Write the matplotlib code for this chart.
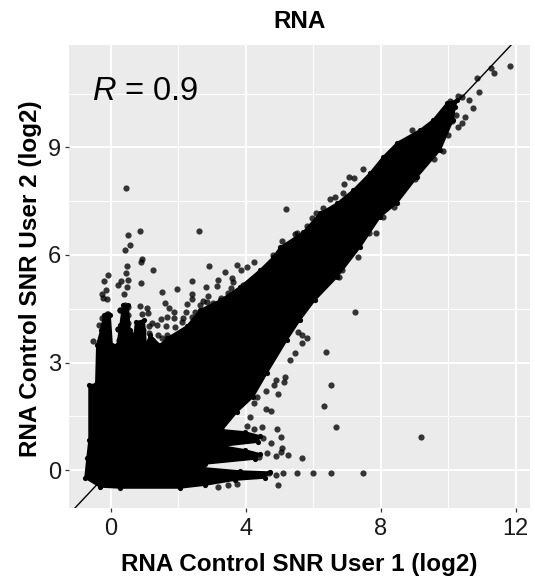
import matplotlib
matplotlib.use("Agg")
import matplotlib.pyplot as plt
from matplotlib.patches import Polygon

plt.rcParams['font.family'] = ['Liberation Sans', 'DejaVu Sans']
plt.rcParams['mathtext.fontset'] = 'custom'
plt.rcParams['mathtext.it'] = 'Liberation Sans:italic'
plt.rcParams['mathtext.rm'] = 'Liberation Sans'

title = "RNA"
x_label = "RNA Control SNR User 1 (log2)"
y_label = "RNA Control SNR User 2 (log2)"
x_ticks = [0, 4, 8, 12]
y_ticks = [0, 3, 6, 9]
x_minor = [2, 6, 10]
y_minor = [1.5, 4.5, 7.5, 10.5]

# Individually visible points
points_x = [0.45,0.88,0.51,0.56,0.41,2.61,5.19,0.94,0.90,1.24,0.48,0.46,-0.07,-0.19,0.50,0.31,0.22,0.48,0.89,-0.13,-0.27,0.39,-0.24,-0.12,
            2.90,2.41,1.96,1.52,2.42,2.41,2.25,1.61,1.73,1.88,2.22,2.81,3.14,3.17,3.40,3.73,3.86,4.05,4.25,3.59,3.62,3.57,3.93,2.89,2.74,3.26,3.47,
            0.88,1.08,0.42,0.28,0.52,0.94,1.11,-0.12,-0.27,-0.36,-0.52,1.66,1.88,1.48,1.23,1.38,1.64,1.14,0.79,0.23,4.82,5.07,5.51,
            11.84,11.34,11.26,10.84,10.91,10.60,10.40,10.30,10.05,10.74,10.50,10.40,10.30,10.23,10.10,9.99,9.83,9.58,8.92,8.57,7.48,7.06,7.22,6.91,6.89,6.50,6.65,6.07,5.96,6.30,5.81,5.46,
            8.40,8.08,7.87,7.66,7.33,6.84,6.76,9.02,
            7.24,6.37,6.53,6.32,6.68,9.20,7.48,6.52,6.00,5.51,5.68,5.26,5.08,5.03,4.94,4.47,4.25,4.74,4.52,4.62,4.40,4.91,5.05,4.95,3.75,3.48,3.17,5.11,4.90,4.69,
            5.54,5.66,5.81,5.66,5.46,5.30,5.16,5.13,4.90,4.84,4.59,4.95,4.34,4.23,4.59,4.75,4.13,4.03,
            -0.15,-0.09,-0.22,-0.12,-0.27,-0.12,-0.22,0.28,0.42,0.52,0.37,0.52,0.23,0.37,0.52,0.25,0.42,0.57,0.87,0.95,0.79,0.87,0.77,0.97,1.14,1.21,1.41,1.16,1.51,1.66,1.91,2.10,2.15,2.40,2.50,2.65,2.84,3.04]
points_y = [7.86,6.67,6.56,6.27,6.13,6.67,7.29,5.88,5.81,5.57,5.69,5.49,5.43,5.27,5.29,5.27,5.17,5.12,5.22,5.02,4.91,4.90,4.79,4.76,
            5.69,5.28,5.06,4.98,4.92,4.76,4.64,4.67,4.51,4.42,4.40,5.12,5.14,5.30,5.53,5.72,5.57,5.67,5.80,5.37,5.25,5.07,5.16,4.86,4.73,4.79,4.93,
            4.59,4.51,4.61,4.47,4.54,4.35,4.37,4.35,4.23,4.06,3.61,4.28,4.25,4.21,4.11,4.05,4.03,4.03,4.02,3.93,6.00,6.40,6.61,
            11.28,11.07,11.21,10.94,10.55,10.33,10.40,10.44,10.30,10.10,9.84,9.69,9.58,9.90,9.74,9.35,8.90,8.67,9.49,9.12,8.40,8.17,8.16,7.99,7.74,7.57,7.61,7.18,7.04,7.30,6.82,6.59,
            7.35,7.07,6.62,6.62,5.95,5.58,5.40,8.11,
            4.40,3.30,2.37,1.79,1.21,0.91,-0.08,-0.08,-0.08,-0.08,0.34,0.43,0.61,0.93,1.14,1.19,1.14,0.76,0.88,0.47,0.37,0.38,0.51,-0.43,-0.39,-0.43,-0.48,-0.08,-0.14,-0.08,
            3.86,3.77,3.69,3.54,3.26,3.06,2.60,2.46,2.52,2.37,2.20,2.11,2.05,1.88,1.71,1.66,1.49,1.24,
            4.23,4.35,4.05,3.91,3.77,3.63,3.49,4.47,4.28,4.33,4.09,4.09,3.93,3.82,3.82,3.63,3.63,3.63,4.05,3.91,3.82,3.68,3.49,3.54,3.82,3.63,3.77,3.49,3.68,3.77,4.00,4.14,4.23,4.28,4.42,4.61,4.70,4.65]

# Outline of the solid overplotted mass
mass_x = [-0.76,-0.70,-0.64,-0.64,-0.44,-0.41,-0.29,-0.20,-0.02,0.04,0.19,0.28,0.36,0.51,0.57,0.69,0.75,0.99,1.05,1.16,1.46,1.67,
          2.26,2.65,3.24,3.83,4.42,4.81,5.02,5.70,6.20,6.71,7.18,7.68,8.07,8.48,9.16,9.55,9.96,10.26,
          10.20,10.14,9.76,9.08,8.48,7.98,7.39,6.71,6.05,5.61,5.22,4.63,4.22,3.74,3.30,3.98,4.42,4.36,3.30,3.98,4.42,4.28,2.79,2.74,3.83,4.72,4.57,3.68,2.79,2.05,0.28,-0.32]
mass_y = [-0.22,0.33,0.84,2.37,2.40,3.49,3.91,4.33,4.33,3.49,3.49,4.05,4.61,4.61,3.91,3.77,4.13,4.19,3.49,3.77,3.49,3.68,
          4.02,4.47,4.74,5.11,5.58,5.94,6.22,6.64,7.17,7.45,7.81,8.29,8.74,9.13,9.49,9.77,10.24,10.33,
          10.13,9.77,8.93,8.18,7.45,7.06,6.22,5.39,4.74,4.19,3.63,2.71,2.04,1.62,1.12,1.06,0.95,0.78,0.67,0.56,0.45,0.31,0.17,0.06,-0.03,-0.06,-0.22,-0.28,-0.42,-0.50,-0.50,-0.47]

W, H = 535, 580
fig = plt.figure(figsize=(W/100, H/100), dpi=100, facecolor='white')
L, R, T, B = 69.3, 530, 45, 508
ax = fig.add_axes([L/W, 1-B/H, (R-L)/W, (B-T)/H])
ax.set_facecolor('#EBEBEB')
ax.set_xlim(-1.227, 12.42)
ax.set_ylim(-1.06, 11.86)
for s in ax.spines.values():
    s.set_visible(False)

ax.set_xticks(x_ticks)
ax.set_yticks(y_ticks)
ax.set_xticks(x_minor, minor=True)
ax.set_yticks(y_minor, minor=True)
ax.grid(True, which='major', color='white', lw=1.3, zorder=1)
ax.grid(True, which='minor', color='white', lw=0.65, zorder=1)
ax.set_axisbelow(True)
ax.tick_params(which='minor', length=0)
ax.tick_params(which='major', length=3, width=0.9, color='#333333', labelcolor='#1a1a1a', labelsize=17, pad=3)
ax.tick_params(axis='x', which='major', pad=4.5)

ax.add_patch(Polygon(list(zip(mass_x, mass_y)), closed=True, facecolor='black', edgecolor='black', lw=1.2, zorder=2, joinstyle='round'))
ax.scatter(mass_x, mass_y, s=14, color='black', linewidths=0, zorder=2)
ax.scatter(points_x, points_y, s=20, color='black', alpha=0.78, linewidths=0, zorder=3)
ax.axline((0, 0), slope=1, color='black', lw=1.0, zorder=4)

ax.text(0.05, 0.9, r"$\mathit{R}$ = 0.9", transform=ax.transAxes, fontsize=23.5, color='black', va='center', ha='left')
ax.set_title(title, fontsize=17.5, fontweight='bold', y=(B-30)/(B-T), va='center')
ax.set_xlabel(x_label, fontsize=17.5, fontweight='bold', va='center')
ax.xaxis.set_label_coords(0.5, (B-565)/(B-T))
ax.set_ylabel(y_label, fontsize=17.5, fontweight='bold', va='center')
ax.yaxis.set_label_coords((31-L)/(R-L), 0.4957)

fig.savefig('out.png', dpi=100)
